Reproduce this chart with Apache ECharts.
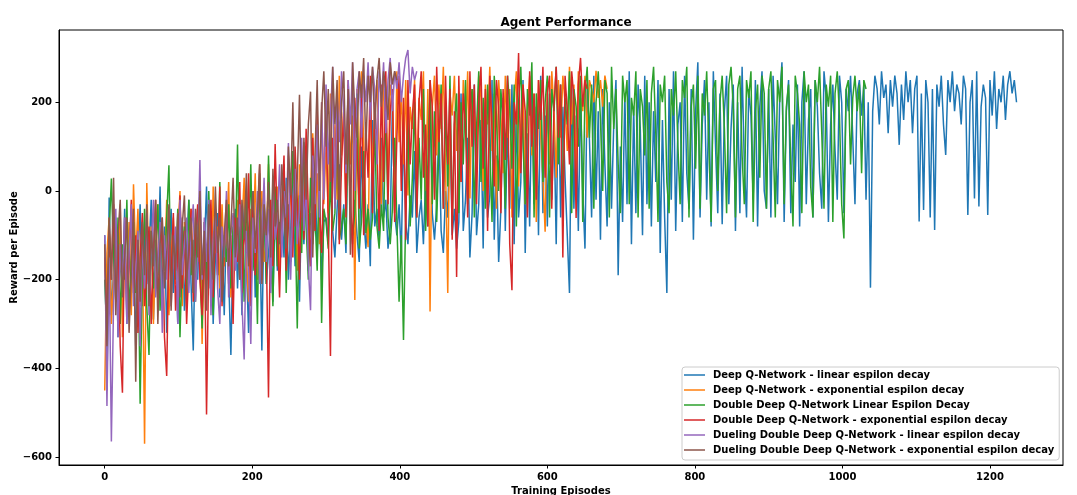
<!DOCTYPE html>
<html lang="en">
<head>
<meta charset="UTF-8">
<title>Agent Performance</title>
<script src="https://cdn.jsdelivr.net/npm/echarts@6/dist/echarts.min.js"></script>
<style>
    html, body { margin: 0; padding: 0; background: #fff; }
    #chart { width: 1077px; height: 495px; }
</style>
</head>
<body>
<div id="chart"></div>
<script>
    // one value every STEP episodes (each row = 60 episodes)
    var STEP = 3;

    var seriesNames = [
        'Deep Q-Network - linear espilon decay',
        'Deep Q-Network - exponential espilon decay',
        'Double Deep Q-Network Linear Espilon Decay',
        'Double Deep Q-Network - exponential espilon decay',
        'Dueling Double Deep Q-Network - linear espilon decay',
        'Dueling Double Deep Q-Network - exponential espilon decay'
    ];
    var seriesColors = ['#1f77b4', '#ff7f0e', '#2ca02c', '#d62728', '#9467bd', '#8c564b'];

    var xTicks = [0, 200, 400, 600, 800, 1000, 1200];
    var yTicks = [-600, -400, -200, 0, 200];

    var dqnLinear = [
        -100, -450, -15, -280, -180, -60, -330, -140, -230, -40, -300, -120, -200, -70, -350, -160, -30, -260, -90, -210,
        -140, -20, -290, -110, -190, 10, -250, -80, -320, -150, -40, -230, -100, -300, -170, -60, -270, -130, -20, -210,
        -360, -90, -200, -30, -260, -130, 10, -220, -70, -300, -150, -50, -240, -110, -280, -60, -190, -370, -120, -40,
        -220, -80, -280, -20, -160, -320, -100, 0, -240, -130, -60, -360, -20, -210, -140, -70, -250, -30, -180, -90,
        -40, -150, 30, -200, -90, 20, -170, -60, -250, -10, -120, 50, -180, -50, -100, 40, -140, -30, -200, -70,
        -60, -120, 180, -90, -150, -40, 60, -110, -30, -140, 200, -70, -120, -20, -100, -160, 100, -60, -130, -30,
        -170, 160, -80, -40, -110, 120, -60, -20, -130, -80, 200, -50, -100, -30, -150, 150, -70, -120, -10, -60,
        90, -140, -60, -20, -120, 30, -80, 210, -50, -110, -30, 150, -90, -140, 0, -60, 180, -100, -40, -130,
        -70, 220, -90, -20, 120, -150, -50, 240, -100, -30, 160, -130, 200, -60, -10, 250, -110, 80, -160, -40,
        210, -90, 150, -40, 240, -120, 180, -60, 20, 250, -140, 130, -80, 230, -30, 190, -100, 260, -50, 170,
        -80, 220, -20, 160, -120, 240, -60, 190, 30, -100, -230, 250, -40, 170, -90, 210, 0, -130, 240, 120,
        -60, 260, -20, 180, -110, 230, 60, -80, 200, -40, 150, 250, -190, 100, -70, 220, -30, 270, -120, 190,
        -50, 240, 140, -100, 260, -30, 200, -80, 180, 20, 250, -140, 160, -60, -230, 230, -20, 270, -90, 150,
        200, -70, 260, 40, -40, 230, -110, 180, 290, -60, 150, 250, -20, 200, -80, 270, 100, -50, 220, -75,
        180, 260, -30, 140, 240, -90, 200, -50, 280, 60, -60, 230, 170, -20, 250, -80, 190, 270, 0, -40,
        230, -60, 260, 120, -30, 210, 290, -70, 180, 250, -50, 150, 20, 240, -80, 200, 270, -30, 160, 230,
        -60, 250, 190, 40, -40, 270, 210, -70, 150, 240, 90, -20, 260, 200, -50, 230, 180, 260, 120, -30,
        220, 250, 170, 240, -20, 200, -218, 180, 260, 230, 150, 270, 210, 240, 130, 250, 190, 260, 220, 104,
        240, 160, 270, 200, 250, 130, 230, 260, -69, 220, -43, 250, 200, -60, 230, -88, 240, 190, 260, 150,
        81, 250, 200, 270, 180, 240, 220, 150, 260, 230, -54, 200, 250, -17, 270, -35, 190, 240, 210, -54,
        250, 170, 270, 140, 230, 200, 260, 160, 240, 270, 220, 250, 200
    ];

    var dqnExp = [
        -450, -140, -60, -300, -190, -90, -250, -30, -330, -120, -210, -70, -280, 15, -150, -40, -260, -110, -570, 18,
        -200, -80, -300, -130, -30, -240, -90, -180, -20, -280, -150, -60, -210, -110, 0, -260, -70, -190, -130, -40,
        -230, -60, -160, -20, -345, -110, -200, -50, -260, 10, -140, -80, -220, -30, -170, -100, 20, -240, -60, -130,
        -20, -190, -80, 30, -150, -250, -40, -110, 40, -200, -70, 0, -160, -120, 60, -210, -50, -100, 10, -180,
        -60, 40, -140, 80, -20, -110, 20, -180, 60, -40, -90, 100, -150, 0, 130, -60, 40, -120, 200, -30,
        100, -50, 220, 30, 150, -20, 260, 80, 190, -40, 240, 60, 170, -246, 230, 20, 270, 110, -60, -127,
        230, 40, 180, 250, 90, -30, 260, 150, 20, 240, 200, -50, 270, 110, 220, 60, 250, -10, 190, 140,
        250, 30, 210, 160, 270, 0, 230, -272, 190, 260, 80, 240, 140, 280, 50, -230, 220, 170, 260, 90,
        200, 20, 250, 130, 270, -17, 230, 180, 60, 260, 210, 0, 240, 150, 280, 90, 220, -40, 250, 170,
        40, 260, 120, 230, -60, 200, 270, 10, 150, 240, -30, 190, 260, 80, 220, -70, 250, 130, 30, -92,
        220, 60, 270, 180, 30, 250, 120, 260, 200, 90, 280, 150, 240, 40, 270, 210, 180, 260, 120, 250,
        230, 200, 271, 210, 250, 190, 260, 230
    ];

    var ddqnLinear = [
        -200, -330, -90, 28, -150, -250, -60, -300, -120, -200, -20, -280, -160, -70, -230, -110, -480, -180, -40, -260,
        -370, -90, -220, -140, -30, -270, -100, -180, -60, 58, -240, -120, -200, -40, -330, -150, -80, -260, -20, -190,
        -110, -250, -40, -170, -310, -70, -200, 0, -130, -280, -60, -190, 20, -240, -100, -160, -30, -220, -80, -140,
        105, -200, -60, -250, -20, -130, 60, -180, -90, -300, 40, -150, -40, -210, 80, -120, -260, 10, -170, -70,
        -100, 60, -230, -30, -160, 90, -60, -310, -10, -140, 110, -80, -200, 30, -120, -50, -180, 70, -298, -40,
        -70, -130, 20, -90, -50, 150, -110, -80, -40, -120, 180, -60, -100, -50, 220, -130, -70, 90, -95, -40,
        -110, -60, 160, -80, -130, -30, -90, 200, -60, -120, -40, 120, -70, -250, -100, -336, -50, 170, -80, 30,
        200, -60, 120, -20, 230, -90, 60, 250, -30, 180, -70, 100, 240, -40, 190, 10, 260, -80, 150, 220,
        -50, 200, 60, 250, -30, 180, 230, -60, 140, 270, 20, 210, -40, 240, 100, -70, 260, 170, 0, 230,
        150, -40, 260, 190, 50, 240, -80, 200, 280, 110, -30, 230, 170, 290, -60, 220, 140, 250, 20, 200,
        260, -60, 230, 180, 280, 60, 240, -30, 210, 150, 270, -50, 230, 190, 100, 260, -70, 220, 280, 120,
        240, -40, 200, 270, 160, 0, 250, 220, -60, 280, 140, 230, 60, -50, 260, 200, 250, -30, 210, 170,
        270, -60, 230, 190, 80, 250, -40, 220, 280, 130, -70, 240, 200, 260, 20, -50, 230, 170, 270, 100,
        -30, 250, 210, 280, -60, 190, 240, 50, 260, -40, 220, 170, 270, 100, -70, 230, 250, 0, 200, 260,
        140, -50, 240, 280, 190, -60, 230, 260, 80, -30, 250, 210, 270, -70, 180, 240, 30, 260, 220, -40,
        230, 270, 120, -60, 250, 200, 280, -30, 190, 240, 60, -80, 260, 220, 150, -50, 270, 200, 240, 10,
        -60, 250, 200, 280, 130, -40, 240, 190, 260, -70, 220, 270, 170, -30, -107, 230, 250, 60, 210, 260,
        180, 240, 40, 250, 230
    ];

    var ddqnExp = [
        -150, -300, -90, -200, -30, -250, -120, -350, -455, -60, -280, -170, -20, -230, -100, -320, -150, -50, -260, -190,
        -80, -300, -130, -20, -240, -160, -60, -330, -417, -100, -200, -50, -270, -140, -10, -220, -90, -300, -170, -40,
        -250, -110, -30, -200, -280, -70, -504, -150, -20, -240, -90, -190, 10, -260, -130, -50, -210, -100, -300, -60,
        -160, 20, -230, -80, -140, 40, -260, -30, -190, -110, 60, -200, -50, -120, -466, -20, -170, 106, -90, -240,
        -40, 80, -180, -60, 30, -150, 100, -20, -200, 60, -110, 140, -50, -170, 120, -90, 180, -30, -140, 40,
        200, -80, -372, 120, -30, 230, -120, 60, 180, -60, 250, 0, -150, 210, 90, -40, 240, -100, 150, 30,
        260, -50, 200, 100, -90, 240, 20, 270, -30, 180, 230, -70, 120, 260, 0, 210, -110, 250, 60, 170,
        240, -60, 200, 270, 30, 150, -80, 250, 190, -20, 280, 110, 220, -40, 260, 60, 230, -110, 180, -194,
        260, 20, 220, 150, -60, 270, 100, 240, -30, 200, 280, 50, 230, -90, 260, 140, 10, 250, 190, -50,
        230, 70, 260, -120, -224, 200, 150, 311, 40, 240, 180, -60, 270, 100, 220, -20, 250, 160, 280, 30,
        220, 260, -40, 190, 280, 120, 240, -150, 260, 180, 60, 270, 210, -61, 240, 300, 190, 250, 230
    ];

    var duelLinear = [
        -100, -485, -150, -565, -250, -40, -330, -120, -200, -60, -300, -140, -30, -260, -180, -90, -350, -110, -220, -50,
        -280, -130, -20, -240, -160, -70, -320, -100, -200, -40, -260, -150, -80, -300, -20, -190, -120, -60, -230, -100,
        -30, -250, -140, 70, -200, -60, -160, -20, -280, -110, -40, -220, -300, -80, -150, 0, -240, -100, -50, -180,
        -120, -30, -250, -380, -90, -180, -345, -60, -140, 0, -210, -100, 30, -160, -40, -230, 20, -110, -70, 60,
        -150, 0, -60, 108, -200, -20, 50, -120, -40, 120, -90, 10, -170, -269, 80, -30, 150, -60, 200, -20,
        240, 60, 170, 280, -40, 220, 110, 270, 180, 40, 250, 150, 290, 0, 230, 270, 120, 260, 200, 290,
        160, 280, 230, 60, 270, 200, 290, 130, 250, 300, 180, 270, 230, 290, 200, 260, 300, 318, 220, 280,
        250, 270
    ];

    var duelExp = [
        -120, -350, -60, -200, 30, -280, -100, -20, -240, -150, -60, -320, -180, -40, -430, -110, -250, -70, -190, -30,
        -260, -90, -170, -20, -300, -120, -60, -220, -140, -30, -270, -100, -180, -50, -240, -80, -10, -200, -130, -60,
        -230, -40, -150, 0, -190, -90, -270, -30, -120, -200, 10, -140, -60, -250, -100, -20, -170, -80, 30, -150,
        -60, -200, -20, -110, 40, -170, -70, 0, -130, -50, 60, -210, -30, -100, 20, -150, 50, -80, -20, -120,
        60, -40, -130, 100, -10, 200, -80, 30, 217, -60, 120, -20, 150, 224, -150, 80, 250, 0, 180, 270,
        100, 230, 20, 280, 150, 250, -50, 200, 270, 60, 230, -144, 290, 180, 120, 270, 210, 300, 90, 260,
        200, 280, 140, 250, 300, 190, 270, 230, 160, 290, 240, 270, 250
    ];

    var allValues = [dqnLinear, dqnExp, ddqnLinear, ddqnExp, duelLinear, duelExp];

    var font = 'DejaVu Sans';
    // plain line for the legend handle, no marker
    var handleIcon = 'path://M0,0 M21,10 M0,4.25 L21,4.25 L21,5.75 L0,5.75 Z';
    var chart = echarts.init(document.getElementById('chart'));

    function pairs(vals) {
        return vals.map(function (v, i) { return [i * STEP, v]; });
    }
    // matplotlib uses a real minus sign
    function tickText(v) {
        return String(v).replace('-', '\u2212');
    }

    var series = [];
    var legendData = [];
    for (var k = 0; k < allValues.length; k++) {
        series.push({
            name: seriesNames[k],
            type: 'line',
            data: pairs(allValues[k]),
            symbol: 'none',
            color: seriesColors[k],
            lineStyle: { width: 1.5, color: seriesColors[k] },
            emphasis: { disabled: true },
            animation: false
        });
        legendData.push({ name: seriesNames[k], icon: handleIcon });
    }

    chart.setOption({
        backgroundColor: '#fff',
        animation: false,
        title: {
            text: 'Agent Performance',
            left: 561,
            top: 12,
            textAlign: 'center',
            textStyle: { fontFamily: font, fontSize: 12, fontWeight: 'bold', color: '#000' }
        },
        grid: {
            left: 59, right: 14, top: 30, bottom: 30,
            show: true, borderColor: '#000', borderWidth: 1,
            outerBoundsMode: 'none'
        },
        legend: {
            orient: 'vertical',
            left: 682,
            top: 367,
            itemWidth: 21,
            itemHeight: 10,
            itemGap: 5,
            padding: [3, 5, 5, 2],
            backgroundColor: 'rgba(255,255,255,0.8)',
            borderColor: '#ccc',
            borderWidth: 1,
            borderRadius: 3,
            selectedMode: false,
            textStyle: { fontFamily: font, fontSize: 10, fontWeight: 'bold', color: '#000', padding: [0, 0, 0, 3] },
            data: legendData
        },
        xAxis: {
            type: 'value',
            min: -62,
            max: 1299,
            name: 'Training Episodes',
            nameLocation: 'middle',
            nameGap: 21,
            nameTextStyle: { fontFamily: font, fontSize: 10, fontWeight: 'bold', color: '#000' },
            splitLine: { show: false },
            axisLine: { onZero: false, lineStyle: { color: '#000', width: 1 } },
            axisTick: { customValues: xTicks, length: 3.5, lineStyle: { color: '#000' } },
            axisLabel: { customValues: xTicks, margin: 7, fontFamily: font, fontSize: 10, fontWeight: 'bold', color: '#000', formatter: tickText }
        },
        yAxis: {
            type: 'value',
            min: -618,
            max: 363,
            name: 'Reward per Episode',
            nameLocation: 'middle',
            nameGap: 40,
            nameMoveOverlap: false,
            nameTextStyle: { fontFamily: font, fontSize: 10, fontWeight: 'bold', color: '#000' },
            splitLine: { show: false },
            axisLine: { show: true, onZero: false, lineStyle: { color: '#000', width: 1 } },
            axisTick: { customValues: yTicks, length: 3.5, lineStyle: { color: '#000' } },
            axisLabel: { customValues: yTicks, margin: 7, fontFamily: font, fontSize: 10, fontWeight: 'bold', color: '#000', formatter: tickText }
        },
        series: series
    });
</script>
</body>
</html>
